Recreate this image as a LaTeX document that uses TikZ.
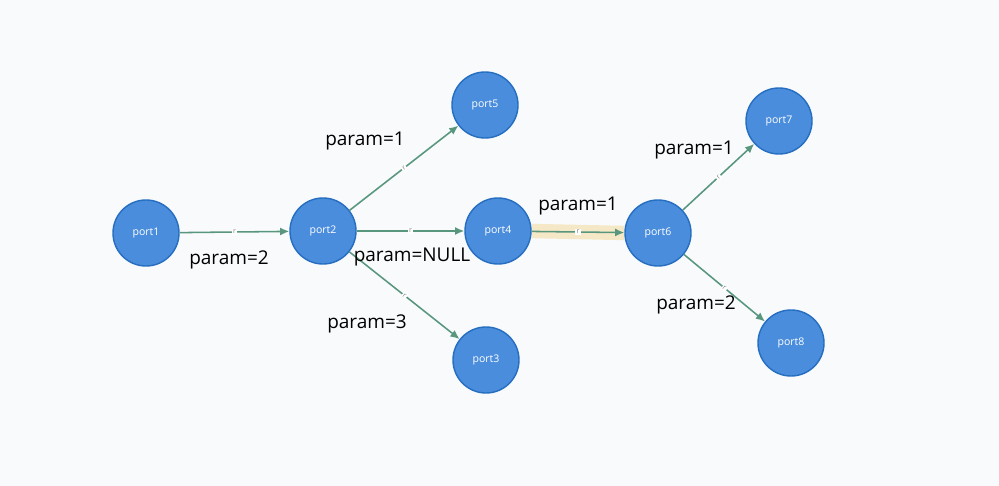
\documentclass[tikz,border=0pt]{standalone}
\usepackage{fontspec}
\setmainfont{Open Sans}
\usepackage{xcolor}
\usetikzlibrary{arrows.meta,backgrounds}
\definecolor{pagebg}{RGB}{248,250,252}
\definecolor{portfill}{RGB}{74,141,220}
\definecolor{portdraw}{RGB}{38,110,192}
\definecolor{linkgreen}{RGB}{88,150,126}
\definecolor{hilite}{RGB}{245,232,198}

\begin{document}
\begin{tikzpicture}[
    x=0.025cm,y=-0.025cm,
    >={Latex[length=2.3mm,width=2mm]},
    port/.style={
      circle,draw=portdraw,line width=1pt,fill=portfill,text=white,
      minimum size=1.65cm,inner sep=0pt,font=\fontsize{7.5}{8}\selectfont
    },
    link/.style={->,line width=1.1pt,color=linkgreen},
    tag/.style={fill=white,text=gray,inner sep=0.8pt,font=\fontsize{5}{5}\selectfont},
    param/.style={font=\fontsize{13.5}{15}\selectfont,text=black}
  ]
    \node[port] (p1) at (146,233) {port1};
    \node[port] (p2) at (323,231) {port2};
    \node[port] (p5) at (485,105) {port5};
    \node[port] (p4) at (498,231) {port4};
    \node[port] (p3) at (486,360) {port3};
    \node[port] (p6) at (658,233) {port6};
    \node[port] (p7) at (779,121) {port7};
    \node[port] (p8) at (791,343) {port8};

    % page and selected link
    \begin{scope}[on background layer]
      \fill[pagebg] (0,0) rectangle (999,486);
      \draw[hilite,line width=0.36cm] (p4.east) -- (p6.west);
    \end{scope}

    \draw[link] (p1) -- node[tag] {r} (p2);
    \draw[link] (p2) -- node[tag,sloped] {r} (p5);
    \draw[link] (p2) -- node[tag] {r} (p4);
    \draw[link] (p2) -- node[tag,sloped] {r} (p3);
    \draw[link] (p4) -- node[tag] {r} (p6);
    \draw[link] (p6) -- node[tag,sloped] {r} (p7);
    \draw[link] (p6) -- node[tag,sloped] {r} (p8);

    \node[param] (l12) at (229,260) {param=2};
    \node[param] (l25) at (365,141) {param=1};
    \node[param] (l24) at (412,257) {param=NULL};
    \node[param] (l23) at (367,324) {param=3};
    \node[param] (l46) at (578,206) {param=1};
    \node[param] (l67) at (694,150) {param=1};
    \node[param] (l68) at (696,305) {param=2};
  \end{tikzpicture}
\end{document}
